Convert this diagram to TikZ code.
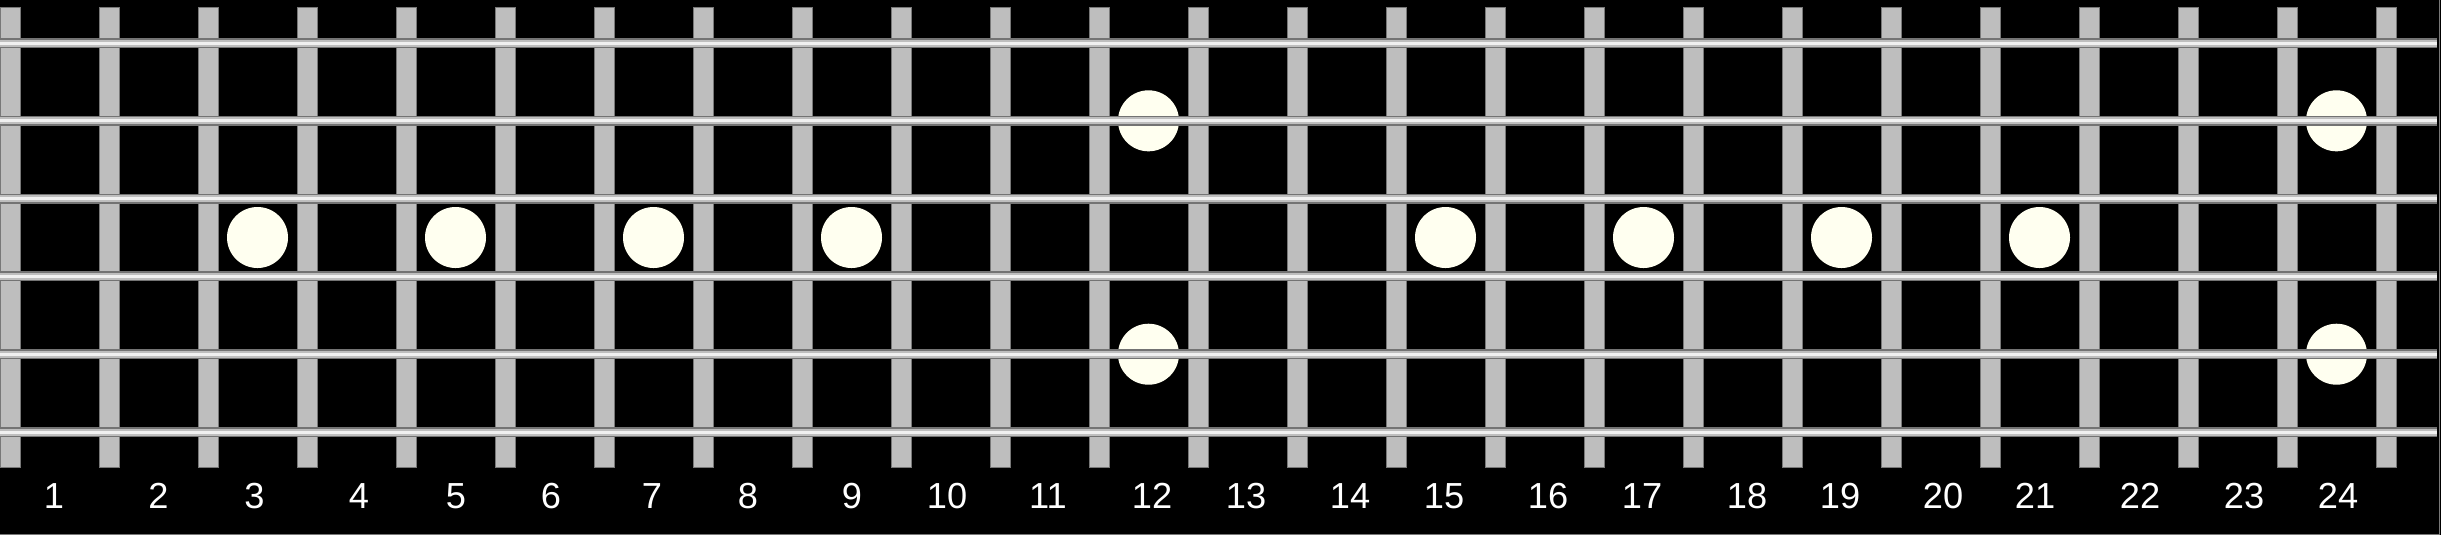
\documentclass[tikz,border=0pt]{standalone}
\usepackage{fontspec}
\setmainfont{Liberation Sans}
\usepackage{tikz}
\definecolor{fretgray}{RGB}{190, 190, 190}
\definecolor{fretedge}{RGB}{120, 120, 120}
\definecolor{stringdark}{RGB}{115, 115, 115}
\definecolor{stringlight}{RGB}{190, 190, 190}
\definecolor{stringshine}{RGB}{240, 240, 240}
\definecolor{inlayivory}{RGB}{255, 255, 240}

\begin{document}
\begin{tikzpicture}[x=0.01cm, y=-0.01cm]
						\fill[black] (0,0) rectangle (2441,535);
						\useasboundingbox (0,0) rectangle (2441,535);
						\draw[fretedge, line width=0.01cm] (0,534.5) -- (2439.5,534.5) -- (2439.5,0);
						\foreach \f in {0,...,24} {
							\filldraw[fill=fretgray, draw=fretedge, line width=0.01cm] ({99*\f},7) rectangle ({99*\f+20},467);
						}
						\foreach \f in {3,5,7,9,15,17,19,21} {
							\fill[inlayivory] ({99*\f-39.5},237.5) circle (30.5);
						}
						\foreach \f in {12,24} {
							\foreach \y in {120.8,354.2} {
								\fill[inlayivory] ({99*\f-39.5},\y) circle (30.5);
							}
						}
						\foreach \s in {0,...,5} {
							\draw[stringdark, line width=0.1cm] (0,{43+77.8*\s}) -- (2437,{43+77.8*\s});
							\draw[stringlight, line width=0.07cm] (0,{43+77.8*\s}) -- (2437,{43+77.8*\s});
							\draw[stringshine, line width=0.03cm] (0,{43+77.8*\s}) -- (2437,{43+77.8*\s});
						}
						\foreach \n/\x in {1/54,2/158.5,3/254.5,4/359,5/456,6/551,7/652,8/748,9/852,10/947,11/1048,12/1152,13/1246,14/1350,15/1444,16/1548,17/1642,18/1747,19/1840,20/1943,21/2035,22/2140,23/2244,24/2338} {
							\node[text=white, font=\fontsize{10.3pt}{12pt}\selectfont] (fretnum\n) at (\x,496) {\n};
						}
					\end{tikzpicture}
\end{document}
